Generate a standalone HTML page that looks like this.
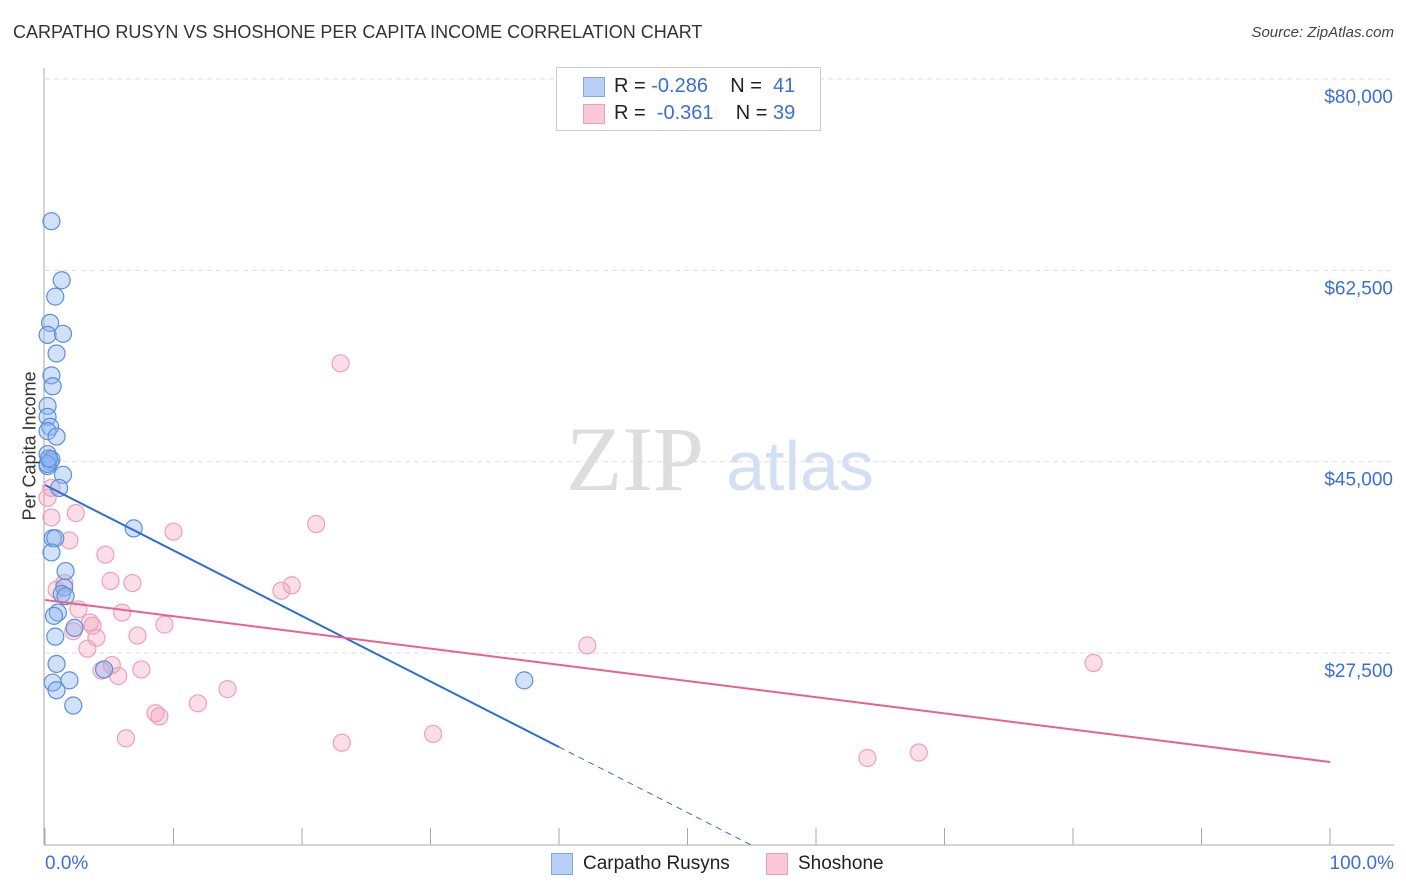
<!DOCTYPE html>
<html><head><meta charset="utf-8"><style>
body{margin:0;background:#fff;font-family:"Liberation Sans",sans-serif;}
#wrap{position:relative;width:1406px;height:892px;overflow:hidden;}
.t{position:absolute;white-space:nowrap;}
</style></head><body>
<div id="wrap">
<div class="t" style="left:13px;top:22px;font-size:18px;color:#333;">CARPATHO RUSYN VS SHOSHONE PER CAPITA INCOME CORRELATION CHART</div>
<div class="t" style="right:12px;top:24px;font-size:15px;color:#444;font-style:italic;">Source: ZipAtlas.com</div>
<svg id="svg" width="1406" height="892" style="position:absolute;left:0;top:0"></svg>
</div>
<script>
const xTicks=[0,10,20,30,40,50,60,70,80,90,100];
const yTicks=[27500,45000,62500,80000];
const yTickLabels=["$27,500","$45,000","$62,500","$80,000"];
const blueX=[0.5,1.3,0.8,0.4,0.2,1.4,0.9,0.5,0.6,0.2,0.2,0.4,0.2,0.9,0.2,0.4,0.2,0.5,1.4,1.1,6.9,0.6,0.8,0.5,1.6,1.5,1.3,1.6,1.0,0.7,2.3,0.8,0.9,0.6,1.9,0.9,4.6,2.2,37.3,0.2,0.3];
const blueY=[67000,61600,60100,57700,56600,56700,54900,52900,51900,50100,49100,48200,47800,47300,45700,45000,44600,45200,43800,42600,38900,38000,38000,36700,35000,33500,32900,32700,31200,30900,29800,29000,26500,24800,25000,24100,26000,22700,25000,44800,45300];
const pinkX=[23.0,0.5,0.2,0.5,2.4,21.1,10.0,1.9,4.7,5.1,6.8,19.2,18.4,0.9,1.5,2.6,6.0,3.5,3.7,9.3,2.2,7.2,4.0,3.3,42.2,81.6,5.2,7.5,4.4,5.7,14.2,11.9,8.6,8.9,6.3,23.1,30.2,68.0,64.0];
const pinkY=[54000,42600,41700,39900,40300,39300,38600,37800,36500,34100,33900,33700,33200,33300,33900,31500,31200,30300,30000,30100,29500,29100,28900,27900,28200,26600,26400,26000,25900,25400,24200,22900,22000,21700,19700,19300,20100,18400,17900];
const blueTrend=[42870,18906];
const pinkTrend=[32350,17534];
const X0=45,X1=1330,Y0=953.7,K=0.010933;
const xs=v=>X0+(X1-X0)*v/100, ys=v=>Y0-v*K;
const svg=document.getElementById('svg');const NS='http://www.w3.org/2000/svg';
function el(tag,attrs,parent){const e=document.createElementNS(NS,tag);for(const k in attrs)e.setAttribute(k,attrs[k]);(parent||svg).appendChild(e);return e;}
// gridlines
yTicks.forEach((v,i)=>{
const g=el('line',{x1:45,x2:1394,y1:ys(v),y2:ys(v),stroke:'#ddd','stroke-dasharray':'5,4'});


const t=el('text',{x:1393,y:ys(v)+24,'text-anchor':'end','font-size':19,fill:'#3a6fd8','font-family':'Liberation Sans'});
t.textContent=yTickLabels[i];


});
// axes
const ax=el('line',{x1:44,x2:44,y1:68,y2:845,stroke:'#aaa'});


const bx=el('line',{x1:44,x2:1394,y1:845,y2:845,stroke:'#aaa'});


xTicks.forEach(v=>{const l=el('line',{x1:xs(v),x2:xs(v),y1:828,y2:845,stroke:'#aaa'});

});
// watermark
const w1=el('text',{x:635,y:490,'text-anchor':'middle','font-size':92,fill:'#ddd','font-family':'Liberation Serif'});w1.textContent='ZIP';


const w2=el('text',{x:800,y:490,'text-anchor':'middle','font-size':70,fill:'#d3e0f3','font-family':'Liberation Sans'});w2.textContent='atlas';


// points
pinkX.forEach((x,i)=>{const c=el('circle',{cx:xs(x),cy:ys(pinkY[i]),r:8.5,fill:'rgba(244,160,185,0.35)',stroke:'#eea0b8','stroke-width':1.2});

});
blueX.forEach((x,i)=>{const c=el('circle',{cx:xs(x),cy:ys(blueY[i]),r:8.5,fill:'rgba(140,180,240,0.4)',stroke:'#5b8fde','stroke-width':1.2});

});
// trends
const bAt=x=>blueTrend[0]+(blueTrend[1]-blueTrend[0])*x/40;
const bl=el('line',{x1:xs(0),y1:ys(bAt(0)),x2:xs(40),y2:ys(bAt(40)),stroke:'#2a6fd6','stroke-width':2});


const bd=el('line',{x1:xs(40),y1:ys(bAt(40)),x2:xs(55),y2:ys(bAt(55)),stroke:'#2a6fd6','stroke-width':1,'stroke-dasharray':'6,5'});


const pl=el('line',{x1:xs(0),y1:ys(pinkTrend[0]),x2:xs(100),y2:ys(pinkTrend[1]),stroke:'#e8628f','stroke-width':2});


</script>
<div class="t" style="left:-35px;top:445px;font-size:18px;color:#333;transform:rotate(-90deg);width:130px;text-align:center;">Per Capita Income</div>
<div class="t" style="left:45px;top:853px;font-size:19px;color:#3a6fd8;">0.0%</div>
<div class="t" style="right:12px;top:853px;font-size:19px;color:#3a6fd8;">100.0%</div>
<div style="position:absolute;left:556px;top:67px;width:263px;height:62px;border:1px solid #ccc;background:#fff;font-size:20px;color:#222;">
<div style="position:absolute;left:26px;top:9px;width:20px;height:18px;background:#b8d0f5;border:1px solid #7fa7e6;"></div>
<div class="t" style="left:57px;top:7px;">R = <span style="color:#3a6fd8">-0.286</span>&nbsp;&nbsp;&nbsp; N = <span style="color:#3a6fd8">&nbsp;41</span></div>
<div style="position:absolute;left:26px;top:36px;width:20px;height:18px;background:#fbc8d6;border:1px solid #ee9fb6;"></div>
<div class="t" style="left:57px;top:34px;">R = <span style="color:#3a6fd8">&nbsp;-0.361</span>&nbsp;&nbsp;&nbsp; N = <span style="color:#3a6fd8">39</span></div>
</div>
<div style="position:absolute;left:551px;top:853px;">
<div style="position:absolute;left:0;top:0;width:20px;height:20px;background:#b8d0f5;border:1px solid #7fa7e6;"></div>
<div class="t" style="left:32px;top:0px;font-size:19px;color:#222;">Carpatho Rusyns</div></div>
<div style="position:absolute;left:766px;top:853px;">
<div style="position:absolute;left:0;top:0;width:20px;height:20px;background:#fbc8d6;border:1px solid #ee9fb6;"></div>
<div class="t" style="left:32px;top:0px;font-size:19px;color:#222;">Shoshone</div></div>
</body></html>
